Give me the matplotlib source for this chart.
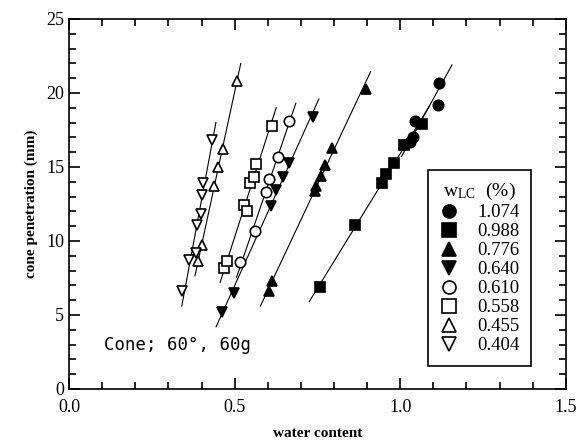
import numpy as np
import matplotlib
matplotlib.use("Agg")
import matplotlib.pyplot as plt
from matplotlib.ticker import MultipleLocator

# ==============================================================
# Data: water content vs cone penetration for each w_LC
# ==============================================================
labels = ["1.074", "0.988", "0.776", "0.640", "0.610", "0.558", "0.455", "0.404"]
markers = ["o", "s", "^", "v", "o", "s", "^", "v"]
filled = [True, True, True, True, False, False, False, False]

w_1074 = [1.118, 1.113, 1.046, 1.038, 1.028]
p_1074 = [20.7, 19.2, 18.1, 17.0, 16.7]

w_0988 = [0.758, 0.864, 0.944, 0.956, 0.982, 1.010, 1.066]
p_0988 = [6.9, 11.1, 13.9, 14.5, 15.25, 16.5, 17.9]

w_0776 = [0.605, 0.612, 0.744, 0.747, 0.760, 0.773, 0.793, 0.896]
p_0776 = [6.6, 7.3, 13.4, 13.7, 14.4, 15.1, 16.3, 20.25]

w_0640 = [0.461, 0.498, 0.609, 0.624, 0.645, 0.665, 0.737]
p_0640 = [5.2, 6.5, 12.35, 13.45, 14.35, 15.25, 18.4]

w_0610 = [0.516, 0.561, 0.595, 0.603, 0.632, 0.665]
p_0610 = [8.55, 10.7, 13.3, 14.2, 15.7, 18.1]

w_0558 = [0.469, 0.478, 0.527, 0.537, 0.546, 0.558, 0.564, 0.614]
p_0558 = [8.2, 8.65, 12.4, 12.0, 13.9, 14.3, 15.2, 17.8]

w_0455 = [0.390, 0.400, 0.439, 0.449, 0.466, 0.506]
p_0455 = [8.65, 9.75, 13.7, 15.0, 16.2, 20.8]

w_0404 = [0.342, 0.362, 0.383, 0.387, 0.397, 0.400, 0.405, 0.433]
p_0404 = [6.6, 8.7, 9.2, 11.1, 11.8, 13.1, 13.9, 16.8]

series_w = [w_1074, w_0988, w_0776, w_0640, w_0610, w_0558, w_0455, w_0404]
series_p = [p_1074, p_0988, p_0776, p_0640, p_0610, p_0558, p_0455, p_0404]

plt.rcParams["font.family"] = ["Liberation Serif", "DejaVu Serif"]
plt.rcParams["mathtext.fontset"] = "stix"

fig = plt.figure(figsize=(5.78, 4.41), dpi=100)
ax = fig.add_axes([0.1194, 0.118, 0.8596, 0.839])

# ==============================================================
# Fitted lines + points
# ==============================================================
for w, p, lab, m, f in zip(series_w, series_p, labels, markers, filled):
    w = np.array(w)
    p = np.array(p)
    a, b = np.polyfit(p, w, 1)
    pp = np.array([p.min() - 1.0, p.max() + 1.2])
    ax.plot(a * pp + b, pp, color="black", lw=0.8, zorder=1)
    ax.plot(w, p, linestyle="none", marker=m, ms=7.5,
            markerfacecolor="black" if f else "white",
            markeredgecolor="black", markeredgewidth=1.2,
            label=lab, zorder=2)

ax.set_xlim(0, 1.5)
ax.set_ylim(0, 25)
ax.xaxis.set_major_locator(MultipleLocator(0.5))
ax.xaxis.set_minor_locator(MultipleLocator(0.1))
ax.yaxis.set_major_locator(MultipleLocator(5))
ax.yaxis.set_minor_locator(MultipleLocator(1))
ax.xaxis.set_major_formatter(matplotlib.ticker.FormatStrFormatter("%.1f"))
ax.tick_params(which="both", direction="in", top=True, right=True,
               labelsize=13, width=1.2)
ax.tick_params(axis="x", pad=7)
ax.tick_params(which="major", length=8)
ax.tick_params(which="minor", length=5)
for s in ax.spines.values():
    s.set_linewidth(1.2)

ax.set_xlabel("water content", fontsize=11, fontweight="bold", labelpad=8)
ax.set_ylabel("cone penetration (mm)", fontsize=11, fontweight="bold", labelpad=6)

ax.text(0.105, 2.6, "Cone; 60°, 60g", fontsize=12.5, family="DejaVu Sans Mono")

leg = ax.legend(title=r"w$_{\mathregular{LC}}$  (%)", loc="lower right",
                bbox_to_anchor=(0.948, 0.038), frameon=True, fancybox=False,
                edgecolor="black", framealpha=1, fontsize=13.5,
                title_fontsize=14, handletextpad=1.0, labelspacing=0.1,
                borderpad=0.6, handlelength=1.0, markerscale=1.25)
leg.get_frame().set_linewidth(1.2)

fig.savefig("out.png", dpi=100)
